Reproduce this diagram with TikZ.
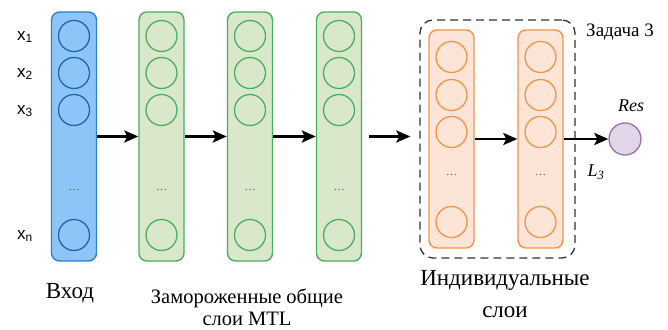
\documentclass[tikz,border=0pt]{standalone}
\usepackage{fontspec}
\setmainfont{Liberation Serif}
\newfontfamily\arialf{Liberation Sans}
\usetikzlibrary{arrows.meta}
\definecolor{bluefill}{HTML}{8DC5F8}
\definecolor{blueline}{HTML}{2F7FD0}
\definecolor{bluecirc}{HTML}{2366A8}
\definecolor{greenfill}{HTML}{D9E8CB}
\definecolor{greenline}{HTML}{4CAF60}
\definecolor{orangefill}{HTML}{FCE4D6}
\definecolor{orangeline}{HTML}{F0954A}
\definecolor{resfill}{HTML}{E1D5E7}
\definecolor{resline}{HTML}{9673A6}
\tikzset{
  colbox/.style={draw, rounded corners=8pt, line width=1.4pt, minimum width=45pt, inner sep=0pt},
  neuron/.style={circle, draw, line width=1.3pt, minimum size=31pt, inner sep=0pt},
  dotsl/.style={font=\fontsize{11}{11}\selectfont, text=black!70},
  flow/.style={line width=2.8pt, -{Stealth[length=14pt,width=12pt,inset=3pt]}},
  xlab/.style={font=\arialf\fontsize{17}{17}\selectfont},
  biglab/.style={font=\fontsize{23}{32}\selectfont, align=center},
  midlab/.style={font=\fontsize{20.5}{22}\selectfont, align=center},
  smalllab/.style={font=\itshape\fontsize{18}{18}\selectfont},
}
\begin{document}
\begin{tikzpicture}[x=1pt,y=-1pt]
\useasboundingbox (0,0) rectangle (668,329);
% input column
\node[colbox, fill=bluefill, draw=blueline, minimum height=249pt] (inp) at (74,136.5) {};
\foreach \i/\y in {1/36,2/73,3/110,4/235}
  \node[neuron, draw=bluecirc] (inp\i) at (74,\y) {};
\node[dotsl] (inpd) at (74,190) {\dots};
% shared frozen columns
\foreach \n/\x in {1/161.5,2/250,3/339}{
  \node[colbox, fill=greenfill, draw=greenline, minimum height=249pt] (g\n) at (\x,136.5) {};
  \foreach \i/\y in {1/36,2/73,3/110,4/235}
    \node[neuron, draw=greenline] (g\n c\i) at (\x,\y) {};
  \node[dotsl] (g\n d) at (\x,190) {\dots};
}
% task box
\node[draw=black!80, dashed, dash pattern=on 8pt off 5pt, line width=1.3pt, rounded corners=13pt,
      minimum width=155pt, minimum height=238pt, inner sep=0pt] (task) at (497.5,139) {};
% individual columns
\foreach \n/\x in {1/451.5,2/540.5}{
  \node[colbox, fill=orangefill, draw=orangeline, minimum height=218pt] (o\n) at (\x,139) {};
  \foreach \i/\y in {1/57,2/95,3/132,4/222}
    \node[neuron, draw=orangeline] (o\n c\i) at (\x,\y) {};
  \node[dotsl] (o\n d) at (\x,175) {\dots};
}
\node[circle, draw=resline, fill=resfill, line width=1.3pt, minimum size=32pt, inner sep=0pt] (res) at (625,139) {};
% arrows
\draw[flow] (inp.east) -- (g1.west);
\draw[flow] (g1.east) -- (g2.west);
\draw[flow] (g2.east) -- (g3.west);
\draw[flow, shorten <=7pt, shorten >=9pt] (g3.east) -- (g3.east -| task.west);
\draw[flow] (o1.east) -- (o2.west);
\draw[flow] (o2.east) -- (res.west);
% labels
\node[xlab] (lx1) at (25,37) {x\textsubscript{1}};
\node[xlab] (lx2) at (25,74) {x\textsubscript{2}};
\node[xlab] (lx3) at (25,111) {x\textsubscript{3}};
\node[xlab] (lxn) at (25,236) {x\textsubscript{n}};
\node[smalllab] (lres) at (631,106) {Res};
\node[smalllab] (lL) at (596,172) {L\textsubscript{3}};
\node[font=\fontsize{19}{19}\selectfont] (ltask) at (620,32) {Задача 3};
\node[biglab] (lin) at (70,293) {Вход};
\node[midlab] (lshared) at (247,307) {Замороженные общие\\слои MTL};
\node[biglab] (lind) at (505,294) {Индивидуальные\\слои};
\end{tikzpicture}
\end{document}
